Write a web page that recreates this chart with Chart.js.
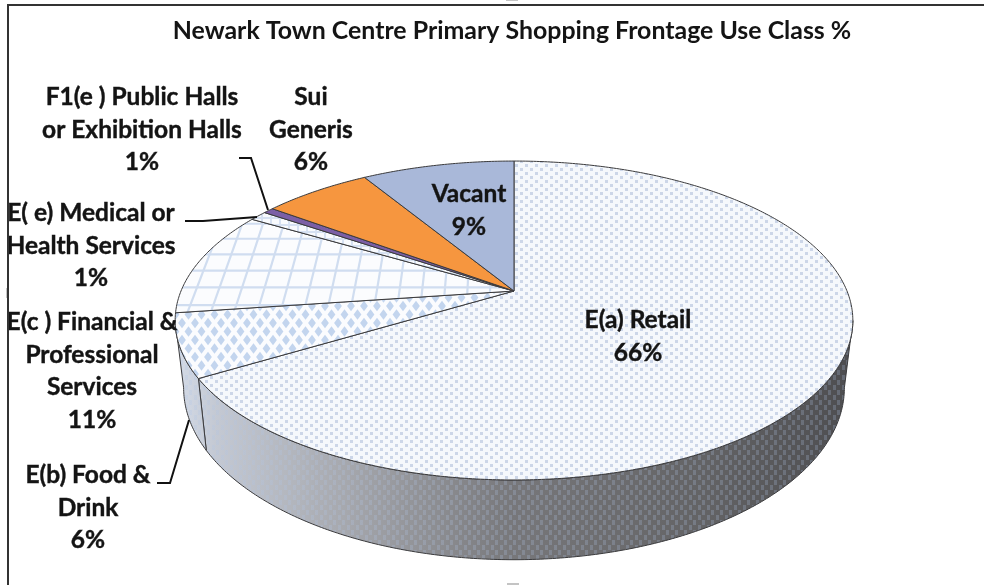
<!DOCTYPE html>
<html>
<head>
<meta charset="utf-8">
<title>Newark Town Centre Primary Shopping Frontage Use Class %</title>
<script src="https://cdn.jsdelivr.net/npm/chart.js@4"></script>
<style>
    html, body { margin: 0; padding: 0; background: #fff; }
    #wrap { width: 984px; height: 585px; }
</style>
</head>
<body>
<div id="wrap"><canvas id="useClassChart" width="984" height="585"></canvas></div>
<script>
// ============================================
// DATA
// ============================================

const chartTitle = 'Newark Town Centre Primary Shopping Frontage Use Class %';
const categories = [
    'E(a) Retail',
    'E(b) Food & Drink',
    'E(c ) Financial & Professional Services',
    'E( e) Medical or Health Services',
    'F1(e ) Public Halls or Exhibition Halls',
    'Sui Generis',
    'Vacant'
];
// the labels show these rounded
const shares = [66.4, 6.4, 10.7, 1.0, 0.6, 6.2, 8.7];
const labelLines = [
    ['E(a) Retail'],
    ['E(b) Food &', 'Drink'],
    ['E(c ) Financial &', 'Professional', 'Services'],
    ['E( e) Medical or', 'Health Services'],
    ['F1(e ) Public Halls', 'or Exhibition Halls'],
    ['Sui', 'Generis'],
    ['Vacant']
];

// ============================================
// LAYOUT
// ============================================

// label anchor (centre x, first line middle y)
const labelAnchors = [[638, 320], [88, 475], [92, 322], [91, 213], [142, 97], [311, 97], [469, 194]];
const LINE_HEIGHT = 32.6;
const LEADERS = [
    [[239, 158], [251, 158], [268, 210]],
    [[185, 221], [203, 221], [257, 217]],
    [[157, 483], [170, 483], [189, 420]]
];

// tilted disc: a homography of the unit circle, front is nearer
const DISC = { cx: 514, cy: 291, rx: 333, ry: 154, k: 0.185, depth: 65, lowerShrink: 0.975 };
const GRID_SLICE = 2;

function plane(u, v, lower) {
    const w = 1 - DISC.k * v;
    const sx = lower ? DISC.lowerShrink : 1;
    return [
        DISC.cx + DISC.rx * u * sx / w,
        DISC.cy + (DISC.ry * v + (lower ? DISC.depth : 0)) / w
    ];
}

function rim(ctx, from, to, lower, start) {
    const steps = Math.max(2, Math.ceil(Math.abs(to - from) / 0.01));
    for (let i = 0; i <= steps; i++) {
        const a = from + (to - from) * i / steps;
        const p = plane(Math.cos(a), Math.sin(a), lower);
        if (i === 0 && start) ctx.moveTo(p[0], p[1]);
        else ctx.lineTo(p[0], p[1]);
    }
}

// ============================================
// FILL PATTERNS
// ============================================

function makePattern(w, h, paint) {
    const c = document.createElement('canvas');
    c.width = w;
    c.height = h;
    const g = c.getContext('2d');
    paint(g);
    return g.createPattern(c, 'repeat');
}

function diamond(g, x, y, rx, ry) {
    g.beginPath();
    g.moveTo(x - rx, y);
    g.lineTo(x, y - ry);
    g.lineTo(x + rx, y);
    g.lineTo(x, y + ry);
    g.closePath();
    g.fill();
}

const dotFill = makePattern(10, 8, g => {
    g.fillStyle = '#f5f8fc';
    g.fillRect(0, 0, 10, 8);
    g.fillStyle = '#ccd6e8';
    g.fillRect(0, 0, 3, 3);
    g.fillRect(5, 4, 3, 3);
});

const diamondFill = makePattern(13, 17, g => {
    g.fillStyle = '#fbfcfe';
    g.fillRect(0, 0, 13, 17);
    g.fillStyle = '#c3d5ee';
    [[6.5, 8.5], [0, 0], [13, 0], [0, 17], [13, 17]].forEach(p => diamond(g, p[0], p[1], 3.9, 5.2));
});

const fineGridFill = makePattern(9, 7, g => {
    g.fillStyle = '#f8fafd';
    g.fillRect(0, 0, 9, 7);
    g.fillStyle = '#d6e1f2';
    g.fillRect(0, 0, 9, 2);
    g.fillRect(0, 0, 2, 7);
});

const wallDashes = makePattern(9, 10, g => {
    g.fillStyle = 'rgba(175,195,230,0.24)';
    g.fillRect(0, 0, 3, 5);
    g.fillRect(5, 5, 3, 5);
});

const sliceFills = [dotFill, diamondFill, '#fbfcfe', fineGridFill, '#7b5fa6', '#f6963f', '#a9b8d9'];

// ============================================
// DISC PLUGIN
// ============================================

function drawWalls(ctx, arcs) {
    const visibleFrom = Math.asin(DISC.k);
    const visibleTo = Math.PI - visibleFrom;
    const shade = ctx.createLinearGradient(175, 0, 853, 0);
    shade.addColorStop(0, '#d5dce8');
    shade.addColorStop(0.06, '#c4c9d3');
    shade.addColorStop(0.24, '#a8aab0');
    shade.addColorStop(0.5, '#77777a');
    shade.addColorStop(0.78, '#636365');
    shade.addColorStop(1, '#4d4d50');

    arcs.forEach(arc => {
        const from = Math.max(arc.startAngle, visibleFrom);
        const to = Math.min(arc.endAngle, visibleTo);
        if (to <= from) return;
        ctx.beginPath();
        rim(ctx, from, to, false, true);
        rim(ctx, to, from, true, false);
        ctx.closePath();
        ctx.fillStyle = shade;
        ctx.fill();
        ctx.fillStyle = wallDashes;
        ctx.fill();
        ctx.lineWidth = 1;
        ctx.strokeStyle = '#3a3a3c';
        ctx.stroke();
    });
}

function slicePath(ctx, arc) {
    ctx.beginPath();
    ctx.moveTo(DISC.cx, DISC.cy);
    rim(ctx, arc.startAngle, arc.endAngle, false, false);
    ctx.closePath();
}

function drawPlaneGrid(ctx, arc) {
    ctx.save();
    slicePath(ctx, arc);
    ctx.clip();
    ctx.strokeStyle = '#d0ddf0';
    ctx.lineWidth = 2.2;
    for (let n = 0; n <= 16; n++) {
        const u = -0.004 - n * 0.068;
        const a = plane(u, -1);
        const b = plane(u, 0.3);
        ctx.beginPath();
        ctx.moveTo(a[0], a[1]);
        ctx.lineTo(b[0], b[1]);
        ctx.stroke();
    }
    for (let m = 0; m <= 8; m++) {
        const v = 0.09 - m * 0.113;
        const a = plane(-1.2, v);
        const b = plane(0, v);
        ctx.beginPath();
        ctx.moveTo(a[0], a[1]);
        ctx.lineTo(b[0], b[1]);
        ctx.stroke();
    }
    ctx.restore();
}

const tiltedDisc = {
    id: 'tiltedDisc',
    beforeDatasetsDraw(chart) {
        const ctx = chart.ctx;
        const arcs = chart.getDatasetMeta(0).data;
        ctx.save();
        drawWalls(ctx, arcs);
        arcs.forEach((arc, i) => {
            slicePath(ctx, arc);
            ctx.fillStyle = arc.options.backgroundColor;
            ctx.fill();
            if (i === GRID_SLICE) drawPlaneGrid(ctx, arc);
            slicePath(ctx, arc);
            ctx.lineWidth = arc.options.borderWidth;
            ctx.strokeStyle = arc.options.borderColor;
            ctx.stroke();
        });
        ctx.restore();
        return false; // the disc above replaces the flat arcs
    }
};

const calloutLabels = {
    id: 'calloutLabels',
    afterDraw(chart) {
        const ctx = chart.ctx;
        const values = chart.data.datasets[0].data;
        ctx.save();

        // picture frame and the stray selection handles
        ctx.fillStyle = '#333';
        ctx.fillRect(7, 4, 977, 2);
        ctx.fillRect(7, 4, 2, 581);
        ctx.fillStyle = '#c4c4c4';
        ctx.fillRect(507, 583, 12, 2);
        ctx.fillRect(506, 0, 12, 1);
        ctx.fillRect(6, 288, 1, 10);

        ctx.strokeStyle = '#111';
        ctx.lineWidth = 2;
        LEADERS.forEach(points => {
            ctx.beginPath();
            points.forEach((p, i) => i ? ctx.lineTo(p[0], p[1]) : ctx.moveTo(p[0], p[1]));
            ctx.stroke();
        });

        // labels are cut off by the frame on the left
        ctx.beginPath();
        ctx.rect(9, 0, 975, 585);
        ctx.clip();
        ctx.font = 'bold 24.5px Lato';
        ctx.fillStyle = '#141414';
        ctx.strokeStyle = '#141414';
        ctx.lineWidth = 0.4;
        ctx.textAlign = 'center';
        ctx.textBaseline = 'middle';
        labelLines.forEach((lines, i) => {
            const rows = lines.concat(Math.round(values[i]) + '%');
            rows.forEach((text, r) => {
                const y = labelAnchors[i][1] + r * LINE_HEIGHT;
                ctx.fillText(text, labelAnchors[i][0], y);
                ctx.strokeText(text, labelAnchors[i][0], y);
            });
        });
        ctx.restore();
    }
};

// ============================================
// CHART
// ============================================

new Chart(document.getElementById('useClassChart'), {
    type: 'pie',
    data: {
        labels: categories,
        datasets: [{
            data: shares,
            backgroundColor: sliceFills,
            borderColor: '#3a3a3c',
            borderWidth: 1
        }]
    },
    options: {
        responsive: false,
        animation: false,
        layout: { padding: { left: 40 } },
        plugins: {
            legend: { display: false },
            tooltip: { enabled: false },
            title: {
                display: true,
                text: chartTitle,
                color: '#141414',
                font: { family: 'Lato', size: 24.9, weight: 'bold' },
                padding: { top: 16, bottom: 10 }
            }
        }
    },
    plugins: [tiltedDisc, calloutLabels]
});
</script>
</body>
</html>
